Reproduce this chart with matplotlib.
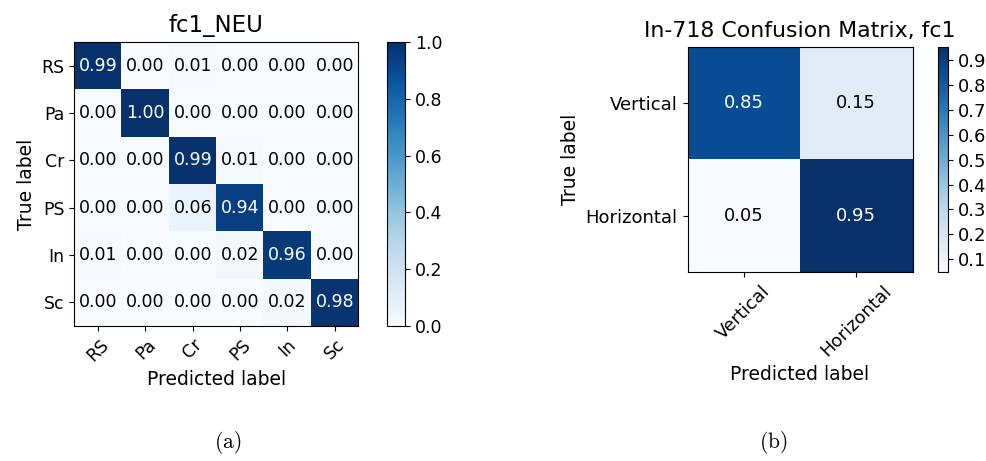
import numpy as np
import matplotlib
matplotlib.use("Agg")
import matplotlib.pyplot as plt

plt.rcParams['mathtext.fontset'] = 'cm'

# left panel: NEU surface defects, normalised confusion matrix
neu_classes = ['RS', 'Pa', 'Cr', 'PS', 'In', 'Sc']
neu_cm = np.array([
    [0.99, 0.00, 0.01, 0.00, 0.00, 0.00],
    [0.00, 1.00, 0.00, 0.00, 0.00, 0.00],
    [0.00, 0.00, 0.99, 0.01, 0.00, 0.00],
    [0.00, 0.00, 0.06, 0.94, 0.00, 0.00],
    [0.01, 0.00, 0.00, 0.02, 0.96, 0.00],
    [0.00, 0.00, 0.00, 0.00, 0.02, 0.98],
])

# right panel: In-718 orientation
in718_classes = ['Vertical', 'Horizontal']
in718_cm = np.array([
    [0.85, 0.15],
    [0.05, 0.95],
])


def plot_cm(ax, cax, cm, classes, title, title_size, tick_size, cbar_ticks):
    im = ax.imshow(cm, interpolation='nearest', cmap=plt.cm.Blues)
    ax.set_title(title, fontsize=title_size, pad=7)
    cb = plt.colorbar(im, cax=cax)
    cb.set_ticks(cbar_ticks)
    cb.ax.tick_params(labelsize=tick_size)
    ticks = np.arange(len(classes))
    ax.set_xticks(ticks)
    ax.set_xticklabels(classes, rotation=45, fontsize=tick_size)
    ax.set_yticks(ticks)
    ax.set_yticklabels(classes, fontsize=tick_size)
    thresh = cm.max() / 2.
    for i in range(cm.shape[0]):
        for j in range(cm.shape[1]):
            ax.text(j, i, format(cm[i, j], '.2f'), ha='center', va='center',
                    fontsize=tick_size,
                    color='white' if cm[i, j] > thresh else 'black')
    ax.set_ylabel('True label', fontsize=13.5)
    ax.set_xlabel('Predicted label', fontsize=13.5)


fig = plt.figure(figsize=(9.86, 4.61), dpi=100)

ax1 = fig.add_axes([0.074, 0.293, 0.291, 0.616])
cax1 = fig.add_axes([0.3925, 0.293, 0.0183, 0.616])
plot_cm(ax1, cax1, neu_cm, neu_classes, 'fc1_NEU', 16.5, 12.5,
        np.arange(0, 1.01, 0.2))

ax2 = fig.add_axes([0.6968, 0.41, 0.2292, 0.488])
cax2 = fig.add_axes([0.9513, 0.41, 0.0101, 0.488])
plot_cm(ax2, cax2, in718_cm, in718_classes, 'In-718 Confusion Matrix, fc1',
        15.8, 13, np.arange(0.1, 0.91, 0.1))

fig.text(0.231, 0.04, r'$\mathrm{(a)}$', ha='center', va='center', fontsize=15.5)
fig.text(0.784, 0.04, r'$\mathrm{(b)}$', ha='center', va='center', fontsize=15.5)

fig.savefig('out.png', dpi=100)
